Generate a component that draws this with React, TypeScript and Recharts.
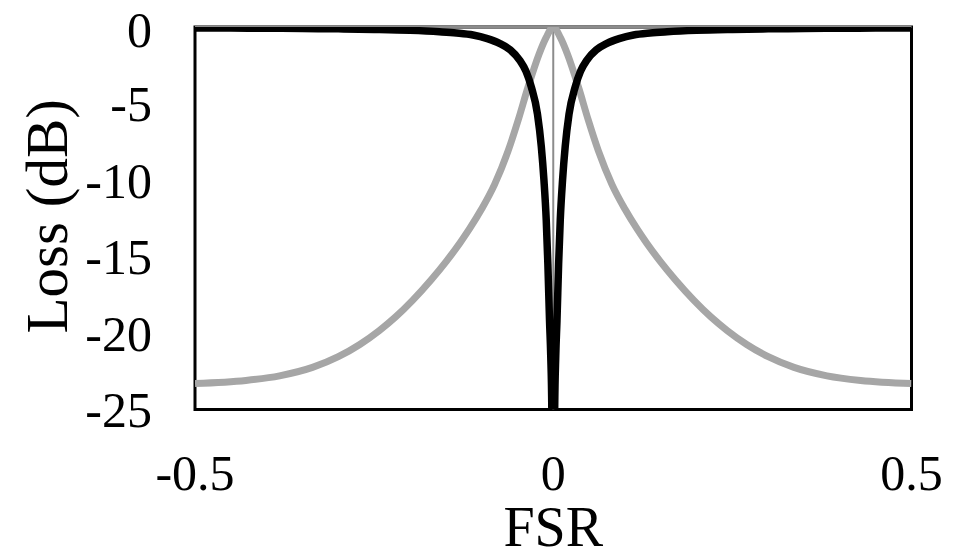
import React from 'react';
import { LineChart, Line, XAxis, YAxis, ReferenceLine, ReferenceArea } from 'recharts';

const FONT = "'Times New Roman', 'Liberation Serif', serif";

const xTicks = [-0.5, 0, 0.5];
const xTickLabels = ['-0.5', '0', '0.5'];
const yTicks = [-25, -20, -15, -10, -5, 0];
const yTickLabels = ['-25', '-20', '-15', '-10', '-5', '0'];

// Drop port (gray)
const dropX = [
  -0.5, -0.429, -0.382, -0.336, -0.3, -0.27, -0.243, -0.22, -0.196, -0.17, -0.149, -0.13, -0.117, -0.1, -0.082, -0.063, -0.049, -0.035, -0.02, -0.01,
  0,
  0.01, 0.02, 0.035, 0.049, 0.063, 0.082, 0.1, 0.117, 0.13, 0.149, 0.17, 0.196, 0.22, 0.243, 0.27, 0.3, 0.336, 0.382, 0.429, 0.5,
];
const dropY = [
  -23.3, -23.1, -22.8, -22.25, -21.55, -20.75, -19.85, -18.95, -17.85, -16.5, -15.3, -14.1, -13.2, -11.9, -10.3, -8.1, -6.1, -3.9, -1.8, -0.7,
  0,
  -0.7, -1.8, -3.9, -6.1, -8.1, -10.3, -11.9, -13.2, -14.1, -15.3, -16.5, -17.85, -18.95, -19.85, -20.75, -21.55, -22.25, -22.8, -23.1, -23.3,
];

// Through port (black)
const thruX = [
  -0.5, -0.45, -0.4, -0.35, -0.3, -0.25, -0.2, -0.159, -0.135, -0.112, -0.092, -0.075, -0.06, -0.047, -0.038, -0.0307,
  -0.022, -0.0167, -0.013, -0.0098, -0.0075, -0.0052, -0.0035, -0.002,
  0,
  0.002, 0.0035, 0.0052, 0.0075, 0.0098, 0.013, 0.0167, 0.022,
  0.0307, 0.038, 0.047, 0.06, 0.075, 0.092, 0.112, 0.135, 0.159, 0.2, 0.25, 0.3, 0.35, 0.4, 0.45, 0.5,
];
const thruY = [
  -0.06, -0.07, -0.08, -0.1, -0.12, -0.16, -0.22, -0.31, -0.39, -0.52, -0.76, -1.07, -1.5, -2.16, -2.9, -3.9,
  -5.7, -7.8, -10.0, -12.6, -15.5, -19.2, -21.5, -25,
  -40,
  -25, -21.5, -19.2, -15.5, -12.6, -10.0, -7.8, -5.7,
  -3.9, -2.9, -2.16, -1.5, -1.07, -0.76, -0.52, -0.39, -0.31, -0.22, -0.16, -0.12, -0.1, -0.08, -0.07, -0.06,
];

const dropData = dropX.map((x, i) => ({ x, y: dropY[i] }));
const thruData = thruX.map((x, i) => ({ x, y: thruY[i] }));

const YTitle = (props: any) => {
  const vb = props.viewBox || { x: 0, y: 27, width: 195, height: 382.5 };
  const x = vb.x + 67;
  const y = vb.y + vb.height / 2 - 2;
  return (
    <text x={x} y={y} transform={`rotate(-90 ${x} ${y})`} textAnchor="middle" fontSize={59} fontFamily={FONT} fill="#000">
      Loss (dB)
    </text>
  );
};

const XTitle = (props: any) => {
  const vb = props.viewBox || { x: 195, y: 409.5, width: 716.5, height: 142.5 };
  const x = vb.x + vb.width / 2;
  const y = vb.y + vb.height - 6;
  return (
    <text x={x} y={y} textAnchor="middle" fontSize={56} fontFamily={FONT} fill="#000">
      FSR
    </text>
  );
};

export default function App() {
  return (
    <div style={{ position: 'absolute', left: 0, top: 0, background: '#fff' }}>
      <LineChart width={957} height={552} margin={{ top: 27, right: 45.5, left: 0, bottom: 0 }}>
        <XAxis
          type="number"
          dataKey="x"
          domain={[-0.5, 0.5]}
          ticks={xTicks}
          allowDataOverflow
          height={142.5}
          axisLine={false}
          tickLine={false}
          tickSize={0}
          tickMargin={45}
          tickFormatter={(v: number) => xTickLabels[xTicks.indexOf(v)]}
          tick={{ fill: '#000', fontSize: 50, fontFamily: FONT }}
          label={{ content: (p: any) => <XTitle {...p} /> }}
        />
        <YAxis
          type="number"
          domain={[-25, 0]}
          ticks={yTicks}
          allowDataOverflow
          width={195}
          axisLine={false}
          tickLine={false}
          tickSize={0}
          tickMargin={43}
          tickFormatter={(v: number) => yTickLabels[yTicks.indexOf(v)]}
          tick={{ fill: '#000', fontSize: 50, fontFamily: FONT }}
          label={{ content: (p: any) => <YTitle {...p} /> }}
        />
        <ReferenceArea x1={-0.5} x2={0.5} y1={-25} y2={0} fill="none" fillOpacity={0} stroke="#000" strokeWidth={3} />
        <ReferenceLine y={0} stroke="#8c8c8c" strokeWidth={2} />
        <ReferenceLine x={0} stroke="#8c8c8c" strokeWidth={2} />
        <Line data={dropData} dataKey="y" type="monotone" stroke="#a6a6a6" strokeWidth={7} dot={false} isAnimationActive={false} />
        <Line data={thruData} dataKey="y" type="monotone" stroke="#000" strokeWidth={7.5} dot={false} isAnimationActive={false} />
      </LineChart>
    </div>
  );
}
